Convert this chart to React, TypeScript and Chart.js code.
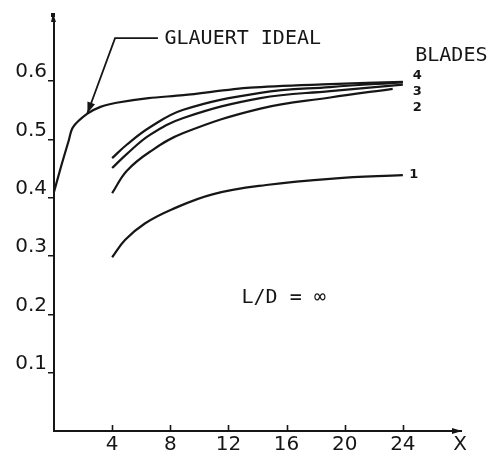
import React, { useEffect, useRef } from "react";
import { Chart, registerables } from "chart.js";

Chart.register(...registerables);

// ---- data ----
const xTicks = [4, 8, 12, 16, 20, 24];
const yTicks = [0.1, 0.2, 0.3, 0.4, 0.5, 0.6];

const glauertX = [0, 0.5, 1, 1.3, 2.27, 3.2, 4.3, 6.5, 8.9, 13.5, 19, 24];
const glauertY = [0.41, 0.455, 0.497, 0.521, 0.544, 0.556, 0.563, 0.571, 0.576, 0.589, 0.595, 0.599];

const blade4X = [4, 5, 6.6, 8.9, 14.2, 19, 24];
const blade4Y = [0.468, 0.491, 0.521, 0.551, 0.58, 0.59, 0.598];

const blade3X = [4, 5, 6.6, 8.9, 14.2, 19, 24];
const blade3Y = [0.451, 0.475, 0.508, 0.537, 0.571, 0.583, 0.594];

const blade2X = [4, 5, 6.6, 8.9, 14.2, 19, 23.3];
const blade2Y = [0.408, 0.446, 0.479, 0.511, 0.553, 0.572, 0.587];

const blade1X = [4, 4.9, 6.25, 8.1, 10.9, 14.6, 19.2, 24];
const blade1Y = [0.298, 0.328, 0.356, 0.38, 0.406, 0.422, 0.433, 0.439];

const bladeLabels = ["4", "3", "2", "1"];

const INK = "#161616";

function pts(xs: number[], ys: number[]) {
  return xs.map((x, i) => ({ x, y: ys[i] }));
}

const annotationPlugin = {
  id: "annotations",
  afterDraw(chart: any) {
    const ctx: CanvasRenderingContext2D = chart.ctx;
    const xs = chart.scales.x;
    const ys = chart.scales.y;
    const { left, right, top, bottom } = chart.chartArea;
    const px = (v: number) => xs.getPixelForValue(v);
    const py = (v: number) => ys.getPixelForValue(v);

    ctx.save();
    ctx.strokeStyle = INK;
    ctx.fillStyle = INK;
    ctx.lineWidth = 1.6;

    // inward x tick marks
    xTicks.forEach((v) => {
      const x = Math.round(px(v)) + 0.5;
      ctx.beginPath();
      ctx.moveTo(x, bottom);
      ctx.lineTo(x, bottom - 6);
      ctx.stroke();
    });

    // x axis arrow
    ctx.beginPath();
    ctx.moveTo(right + 1, bottom);
    ctx.lineTo(right - 9, bottom - 3);
    ctx.lineTo(right - 9, bottom + 3);
    ctx.closePath();
    ctx.fill();

    // y axis arrow / cap
    ctx.beginPath();
    ctx.moveTo(left - 1, top - 7);
    ctx.lineTo(left - 3, top + 2);
    ctx.lineTo(left + 2, top + 2);
    ctx.closePath();
    ctx.fill();
    ctx.fillRect(left - 3, top - 7, 4, 4);

    // "X" axis label
    ctx.font = "20px 'DejaVu Sans'";
    ctx.textAlign = "center";
    ctx.textBaseline = "middle";
    ctx.fillText("X", right - 1, bottom + 14);

    // GLAUERT IDEAL leader
    const hx0 = px(4.2), hx1 = px(7.15), hy = py(0.674);
    const tipX = px(2.3), tipY = py(0.545);
    ctx.lineWidth = 1.8;
    ctx.beginPath();
    ctx.moveTo(hx1, hy);
    ctx.lineTo(hx0, hy);
    ctx.lineTo(tipX, tipY);
    ctx.stroke();
    const ang = Math.atan2(tipY - hy, tipX - hx0);
    const aLen = 11, aW = 4;
    const bx = tipX - Math.cos(ang) * aLen;
    const by = tipY - Math.sin(ang) * aLen;
    ctx.beginPath();
    ctx.moveTo(tipX, tipY);
    ctx.lineTo(bx + Math.sin(ang) * aW, by - Math.cos(ang) * aW);
    ctx.lineTo(bx - Math.sin(ang) * aW, by + Math.cos(ang) * aW);
    ctx.closePath();
    ctx.fill();

    ctx.textAlign = "left";
    ctx.font = "20px 'DejaVu Sans Mono'";
    ctx.fillText("GLAUERT IDEAL", px(7.6), py(0.672));
    ctx.fillText("BLADES", px(24.85), py(0.643));
    ctx.fillText("L/D = ∞", px(12.9), py(0.228));

    ctx.font = "bold 13px 'DejaVu Sans'";
    ctx.textAlign = "center";
    ctx.fillText(bladeLabels[0], px(25.0), py(0.61));
    ctx.fillText(bladeLabels[1], px(25.0), py(0.582));
    ctx.fillText(bladeLabels[2], px(25.0), py(0.555));
    ctx.fillText(bladeLabels[3], px(24.75), py(0.439));
    ctx.restore();
  },
};

export default function App() {
  const ref = useRef<HTMLCanvasElement | null>(null);

  useEffect(() => {
    document.body.style.margin = "0";
    const canvas = ref.current;
    if (!canvas) return;
    const line = (data: any[], tension: number) => ({
      data,
      borderColor: INK,
      borderWidth: 2.2,
      pointRadius: 0,
      fill: false,
      tension,
    });
    const chart = new Chart(canvas, {
      type: "line",
      data: {
        datasets: [
          line(pts(glauertX, glauertY), 0.3),
          line(pts(blade4X, blade4Y), 0.4),
          line(pts(blade3X, blade3Y), 0.4),
          line(pts(blade2X, blade2Y), 0.4),
          line(pts(blade1X, blade1Y), 0.4),
        ],
      },
      options: {
        animation: false,
        responsive: false,
        devicePixelRatio: 1,
        layout: { padding: { left: 0, right: 32, top: 20, bottom: 0 } },
        plugins: { legend: { display: false }, tooltip: { enabled: false } },
        scales: {
          x: {
            type: "linear",
            min: 0,
            max: 28,
            afterBuildTicks: (s: any) => {
              s.ticks = xTicks.map((v) => ({ value: v }));
            },
            afterFit: (s: any) => {
              s.height = 25;
            },
            grid: { display: false, drawTicks: false },
            border: { display: true, color: INK, width: 2 },
            ticks: {
              padding: 2,
              color: INK,
              font: { family: "'DejaVu Sans'", size: 20 },
              callback: (v: any) => String(v),
              maxRotation: 0,
              autoSkip: false,
            },
          },
          y: {
            type: "linear",
            min: 0,
            max: 0.705,
            afterBuildTicks: (s: any) => {
              s.ticks = yTicks.map((v) => ({ value: v }));
            },
            afterFit: (s: any) => {
              s.width = 54;
            },
            grid: {
              display: true,
              drawOnChartArea: false,
              drawTicks: true,
              tickLength: 6,
              color: INK,
              lineWidth: 1.5,
            },
            border: { display: true, color: INK, width: 2 },
            ticks: {
              padding: 1,
              labelOffset: -9,
              color: INK,
              font: { family: "'DejaVu Sans'", size: 20 },
              callback: (v: any) => Number(v).toFixed(1),
              autoSkip: false,
            },
          },
        },
      },
      plugins: [annotationPlugin],
    });
    return () => chart.destroy();
  }, []);

  return (
    <div style={{ position: "fixed", left: 0, top: 0, width: 493, height: 456, background: "#fff" }}>
      <canvas ref={ref} width={493} height={456} style={{ display: "block", width: 493, height: 456 }} />
    </div>
  );
}
